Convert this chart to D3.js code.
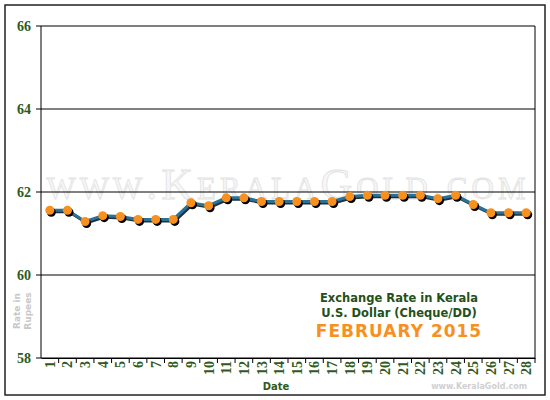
<!DOCTYPE html>
<html>
<head>
<meta charset="utf-8">
<script src="https://cdn.jsdelivr.net/npm/d3@7"></script>
<style>
  body { margin: 0; background: #fff; }
  svg { display: block; }
</style>
</head>
<body>
<svg id="chart" width="550" height="400"></svg>
<script>
// data
const days = d3.range(1, 29).map(String);
const rates = [61.56, 61.56, 61.29, 61.43, 61.41, 61.34, 61.34, 61.34, 61.74, 61.67,
               61.86, 61.86, 61.77, 61.77, 61.77, 61.77, 61.77, 61.89, 61.92, 61.92,
               61.92, 61.92, 61.84, 61.92, 61.70, 61.50, 61.50, 61.50];
const yTicks = [58, 60, 62, 64, 66];

const svg = d3.select("#chart");
const plotLeft = 41, plotRight = 535, plotTop = 26, plotBottom = 358;
const green = "#2e5a1c";

const x = d3.scaleBand().domain(days).range([plotLeft, plotRight]);
const y = d3.scaleLinear().domain([58, 66]).range([plotBottom, plotTop]);

// outer border
svg.append("rect")
    .attr("x", 5).attr("y", 5)
    .attr("width", 540).attr("height", 390)
    .attr("fill", "white")
    .attr("stroke", "#222")
    .attr("stroke-width", 1.5);

// watermark
svg.append("text")
    .attr("x", (plotLeft + plotRight) / 2)
    .attr("y", 199)
    .attr("text-anchor", "middle")
    .attr("font-family", "Liberation Serif, serif")
    .attr("font-size", 44)
    .attr("font-variant", "small-caps")
    .attr("letter-spacing", 4)
    .attr("fill", "#f7f7f7")
    .attr("stroke", "#e2e2e2")
    .attr("stroke-width", 0.8)
    .text("www.KeralaGold.com");

// gridlines
svg.append("g")
    .selectAll("line")
    .data(yTicks)
    .join("line")
    .attr("x1", plotLeft - 5).attr("x2", plotRight)
    .attr("y1", d => y(d)).attr("y2", d => y(d))
    .attr("stroke", "#000")
    .attr("stroke-width", 1);

// y axis labels
svg.append("g")
    .selectAll("text")
    .data(yTicks)
    .join("text")
    .attr("x", 31)
    .attr("y", d => y(d) + 5)
    .attr("text-anchor", "end")
    .attr("font-family", "Liberation Serif, serif")
    .attr("font-weight", "bold")
    .attr("font-size", 14)
    .attr("fill", green)
    .text(d => d);

// plot frame left/right
svg.append("line")
    .attr("x1", plotLeft).attr("x2", plotLeft)
    .attr("y1", plotTop).attr("y2", plotBottom)
    .attr("stroke", "#000");
svg.append("line")
    .attr("x1", plotRight).attr("x2", plotRight)
    .attr("y1", plotTop).attr("y2", plotBottom)
    .attr("stroke", "#000");

// x axis
const xAxis = svg.append("g")
    .attr("transform", `translate(0,${plotBottom})`)
    .call(d3.axisBottom(x).tickSize(0).tickFormat(""));
xAxis.select(".domain").attr("stroke", "#000");

// x ticks between days
svg.append("g")
    .selectAll("line")
    .data(days)
    .join("line")
    .attr("x1", d => x(d) + x.bandwidth())
    .attr("x2", d => x(d) + x.bandwidth())
    .attr("y1", plotBottom).attr("y2", plotBottom + 5)
    .attr("stroke", "#000");

// x labels, rotated
svg.append("g")
    .selectAll("text")
    .data(days)
    .join("text")
    .attr("transform", d => `translate(${x(d) + x.bandwidth() / 2 + 5},${plotBottom + 3}) rotate(-90)`)
    .attr("text-anchor", "end")
    .attr("font-family", "Liberation Serif, serif")
    .attr("font-weight", "bold")
    .attr("font-size", 14)
    .attr("fill", green)
    .text(d => d);

svg.append("text")
    .attr("x", 276).attr("y", 390)
    .attr("text-anchor", "middle")
    .attr("font-family", "DejaVu Sans, Verdana, sans-serif")
    .attr("font-weight", "bold")
    .attr("font-size", 10)
    .attr("fill", green)
    .text("Date");

// y axis title
const yTitle = svg.append("text")
    .attr("transform", "translate(20,311) rotate(-90)")
    .attr("text-anchor", "middle")
    .attr("font-family", "DejaVu Sans, Verdana, sans-serif")
    .attr("font-weight", "bold")
    .attr("font-size", 9)
    .attr("fill", "#c8c8c8");
yTitle.append("tspan").attr("x", 0).attr("dy", 0).text("Rate in");
yTitle.append("tspan").attr("x", 0).attr("dy", 11).text("Rupees");

// line with shadow
const line = d3.line()
    .x(d => x(d.day) + x.bandwidth() / 2)
    .y(d => y(d.rate));
const pts = days.map((d, i) => ({ day: d, rate: rates[i] }));

svg.append("path")
    .datum(pts)
    .attr("d", line)
    .attr("transform", "translate(1.5,1.5)")
    .attr("fill", "none")
    .attr("stroke", "#1b3340")
    .attr("stroke-width", 3);
svg.append("path")
    .datum(pts)
    .attr("d", line)
    .attr("fill", "none")
    .attr("stroke", "#2b7196")
    .attr("stroke-width", 3);

// markers with shadow
svg.append("g")
    .selectAll("circle")
    .data(pts)
    .join("circle")
    .attr("cx", d => x(d.day) + x.bandwidth() / 2 + 1.5)
    .attr("cy", d => y(d.rate) + 2)
    .attr("r", 4.5)
    .attr("fill", "#000");
svg.append("g")
    .selectAll("circle")
    .data(pts)
    .join("circle")
    .attr("cx", d => x(d.day) + x.bandwidth() / 2)
    .attr("cy", d => y(d.rate))
    .attr("r", 4.5)
    .attr("fill", "#f7901e");

// legend block
const legend = svg.append("g")
    .attr("font-family", "DejaVu Sans, Verdana, sans-serif")
    .attr("font-weight", "bold");
legend.append("text")
    .attr("x", 399).attr("y", 302)
    .attr("text-anchor", "middle")
    .attr("font-size", 11.5)
    .attr("fill", "#24501a")
    .text("Exchange Rate in Kerala");
legend.append("text")
    .attr("x", 399).attr("y", 317)
    .attr("text-anchor", "middle")
    .attr("font-size", 11.5)
    .attr("fill", "#24501a")
    .text("U.S. Dollar (Cheque/DD)");
legend.append("text")
    .attr("x", 399).attr("y", 337)
    .attr("text-anchor", "middle")
    .attr("font-size", 17)
    .attr("letter-spacing", 1)
    .attr("fill", "#f7901e")
    .text("FEBRUARY 2015");

svg.append("text")
    .attr("x", 527).attr("y", 389)
    .attr("text-anchor", "end")
    .attr("font-family", "DejaVu Sans, Verdana, sans-serif")
    .attr("font-weight", "bold")
    .attr("font-size", 8)
    .attr("fill", "#d0d0d0")
    .text("www.KeralaGold.com");
</script>
</body>
</html>
